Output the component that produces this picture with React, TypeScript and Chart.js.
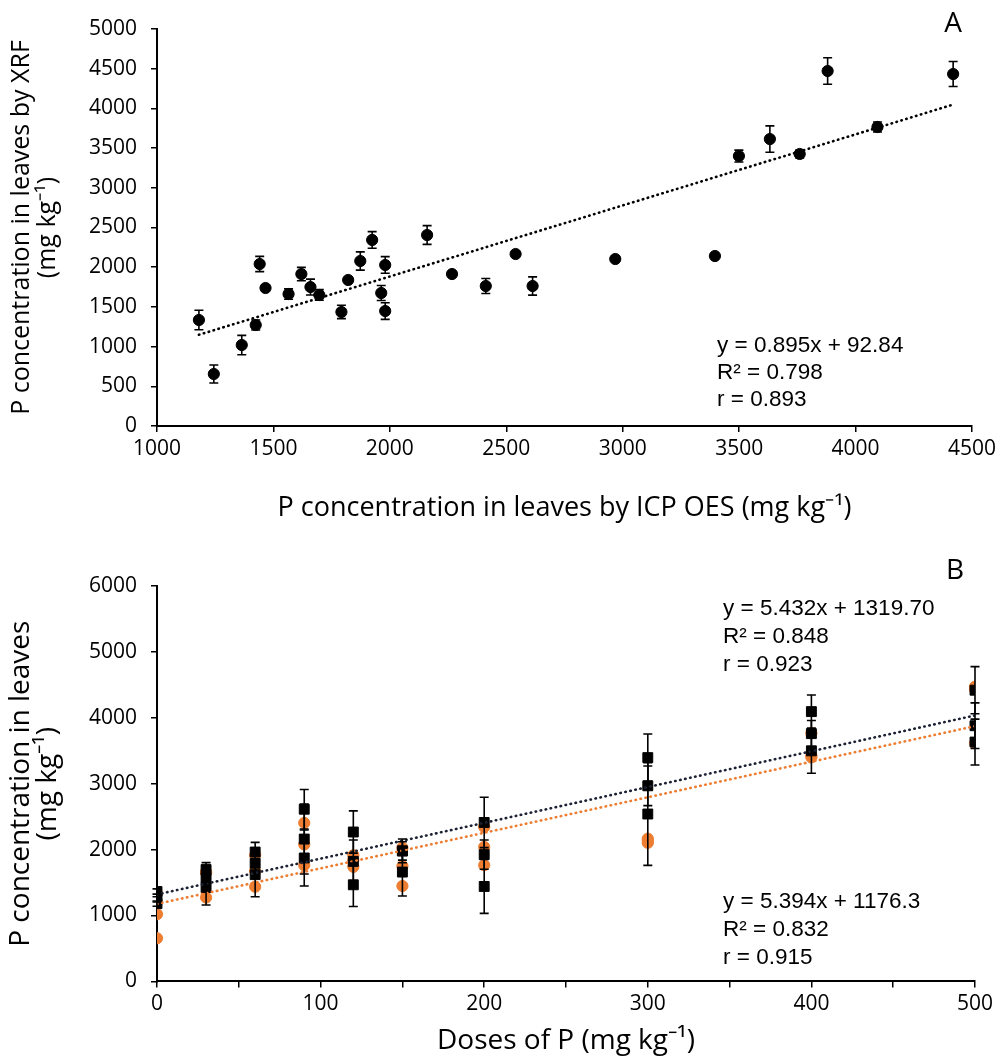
import React, { useEffect, useRef } from 'react';
import { Chart, registerables } from 'chart.js';

Chart.register(...registerables);

// ---- data (30 samples, 3 per dose) ----
const doses = [0, 0, 0, 30, 30, 30, 60, 60, 60, 90, 90, 90, 120, 120, 120, 150, 150, 150, 200, 200, 200, 300, 300, 300, 400, 400, 400, 500, 500, 500];
// P in leaves by ICP OES (mg kg-1)
const icp = [1180, 1244, 1364, 1424, 1565, 1697, 1620, 1792, 1963, 1873, 2160, 2613, 1466, 1821, 2267, 1659, 1980, 1980, 1441, 1924, 2412, 2540, 2968, 3396, 3499, 3760, 4094, 3632, 3880, 4419];
// P in leaves by XRF (mg kg-1)
const xrf = [1335, 655, 1020, 1272, 1662, 1650, 1914, 1436, 1675, 2078, 2405, 1763, 1738, 1839, 1914, 1750, 2028, 1448, 2040, 2343, 1763, 2166, 2103, 2141, 3400, 3426, 3766, 3614, 4471, 4433];
// error bars
const xrfErr = [122, 113, 122, 63, 65, 67, 84, 84, 95, 115, 118, 115, 20, 20, 0, 100, 105, 105, 96, 105, 95, 0, 0, 0, 75, 50, 63, 166, 166, 157];
const icpErr = [40, 40, 40, 265, 60, 105, 335, 60, 147, 425, 530, 300, 330, 325, 320, 363, 180, 140, 408, 222, 382, 780, 300, 358, 341, 200, 252, 348, 346, 357];

// trend line coefficients [slope, intercept]
const trendA = [0.895, 92.84];
const trendIcp = [5.432, 1319.7];
const trendXrf = [5.394, 1176.3];

// axis ticks
const xTicksA = [1000, 1500, 2000, 2500, 3000, 3500, 4000, 4500];
const yTicksA = [0, 500, 1000, 1500, 2000, 2500, 3000, 3500, 4000, 4500, 5000];
const xTicksB = [0, 50, 100, 150, 200, 250, 300, 350, 400, 450, 500];
const yTicksB = [0, 1000, 2000, 3000, 4000, 5000, 6000];

// annotation texts
const eqA = ['y = 0.895x + 92.84', 'R² = 0.798', 'r = 0.893'];
const eqB1 = ['y = 5.432x + 1319.70', 'R² = 0.848', 'r = 0.923'];
const eqB2 = ['y = 5.394x + 1176.3', 'R² = 0.832', 'r = 0.915'];

const ORANGE = '#ED7D31';
const FAMILY = '"Open Sans", sans-serif';
const TICK_FONT = { family: FAMILY, size: 21 };
const TITLE_FONT_AX = { family: FAMILY, size: 27, lineHeight: 1.0 };
const TITLE_FONT_AY = { family: FAMILY, size: 25, lineHeight: 1.04 };
const TITLE_FONT_B = { family: FAMILY, size: 28, lineHeight: 0.96 };
const EQ_FONT = '22.5px "Liberation Sans", Arial, sans-serif';

const errorBarPlugin = {
  id: 'errbars',
  afterDatasetsDraw(chart: any) {
    const { ctx } = chart;
    const xs = chart.scales.x;
    const ys = chart.scales.y;
    chart.data.datasets.forEach((ds: any) => {
      const errs = ds.errors;
      if (!errs) return;
      ctx.save();
      ctx.strokeStyle = '#000';
      ctx.lineWidth = 1.6;
      ds.data.forEach((p: any, j: number) => {
        const e = errs[j];
        if (!e) return;
        const px = xs.getPixelForValue(p.x);
        const top = ys.getPixelForValue(p.y + e);
        const bot = ys.getPixelForValue(p.y - e);
        const c = 4.5;
        ctx.beginPath();
        ctx.moveTo(px, top);
        ctx.lineTo(px, bot);
        ctx.moveTo(px - c, top);
        ctx.lineTo(px + c, top);
        ctx.moveTo(px - c, bot);
        ctx.lineTo(px + c, bot);
        ctx.stroke();
      });
      ctx.restore();
    });
  },
};

const notesPlugin = {
  id: 'notes',
  afterDraw(chart: any, _args: any, opts: any) {
    const { ctx } = chart;
    (opts.items || []).forEach((it: any) => {
      ctx.save();
      ctx.font = it.font;
      ctx.fillStyle = '#000';
      ctx.textBaseline = 'middle';
      ctx.textAlign = it.align || 'left';
      it.lines.forEach((l: string, k: number) => ctx.fillText(l, it.x, it.y + k * (it.lh || 0)));
      ctx.restore();
    });
  },
};

function trendPoints(coef: number[], x0: number, x1: number) {
  return [
    { x: x0, y: coef[0] * x0 + coef[1] },
    { x: x1, y: coef[0] * x1 + coef[1] },
  ];
}

function axisCommon() {
  return {
    grid: { display: true, drawOnChartArea: false, drawTicks: true, tickLength: 6, color: '#000', lineWidth: 1.5 },
    border: { display: true, color: '#000', width: 2 },
  };
}

const plain = (v: any) => String(v);

function makeChartA(canvas: HTMLCanvasElement) {
  const pts = icp.map((v, i) => ({ x: v, y: xrf[i] }));
  const xmin = Math.min(...icp);
  const xmax = Math.max(...icp);
  return new Chart(canvas, {
    type: 'scatter',
    data: {
      datasets: [
        {
          data: trendPoints(trendA, xmin, xmax),
          showLine: true,
          borderColor: '#000',
          borderWidth: 2.6,
          borderDash: [0.5, 4.6],
          borderCapStyle: 'round',
          pointRadius: 0,
        } as any,
        {
          data: pts,
          errors: xrfErr,
          backgroundColor: '#000',
          borderColor: '#000',
          pointRadius: 5.6,
          pointStyle: 'circle',
        } as any,
      ],
    },
    options: {
      animation: false,
      responsive: false,
      devicePixelRatio: 1,
      layout: { padding: { left: 0, top: 29, right: 30, bottom: 0 } },
      plugins: {
        legend: { display: false },
        tooltip: { enabled: false },
        notes: {
          items: [
            { lines: eqA, x: 717, y: 346, lh: 27, font: EQ_FONT },
            { lines: ['A'], x: 953, y: 24, font: '28px "Open Sans", sans-serif', align: 'center' },
          ],
        },
      } as any,
      scales: {
        x: {
          type: 'linear',
          min: xTicksA[0],
          max: xTicksA[xTicksA.length - 1],
          ...axisCommon(),
          afterBuildTicks: (s: any) => { s.ticks = xTicksA.map((v) => ({ value: v })); },
          afterFit: (s: any) => { s.height = 104; },
          ticks: { font: TICK_FONT, color: '#000', padding: 4, maxRotation: 0, autoSkip: false, callback: plain },
          title: { display: true, text: 'P concentration in leaves by ICP OES (mg kg⁻¹)', font: TITLE_FONT_AX, color: '#000', padding: { top: 0, bottom: 8 } },
        },
        y: {
          type: 'linear',
          min: yTicksA[0],
          max: yTicksA[yTicksA.length - 1],
          ...axisCommon(),
          afterBuildTicks: (s: any) => { s.ticks = yTicksA.map((v) => ({ value: v })); },
          afterFit: (s: any) => { s.width = 157; },
          ticks: { font: TICK_FONT, color: '#000', padding: 14, autoSkip: false, callback: plain },
          title: { display: true, text: ['P concentration in leaves by XRF', '(mg kg⁻¹)'], font: TITLE_FONT_AY, color: '#000', padding: { top: 9, bottom: 0 } },
        },
      },
    } as any,
    plugins: [errorBarPlugin, notesPlugin],
  });
}

function makeChartB(canvas: HTMLCanvasElement) {
  const icpPts = doses.map((d, i) => ({ x: d, y: icp[i] }));
  const xrfPts = doses.map((d, i) => ({ x: d, y: xrf[i] }));
  const x0 = xTicksB[0];
  const x1 = xTicksB[xTicksB.length - 1];
  return new Chart(canvas, {
    type: 'scatter',
    data: {
      datasets: [
        {
          data: trendPoints(trendIcp, x0, x1),
          showLine: true,
          borderColor: '#1c2233',
          borderWidth: 2.6,
          borderDash: [0.5, 4.6],
          borderCapStyle: 'round',
          pointRadius: 0,
        } as any,
        {
          data: trendPoints(trendXrf, x0, x1),
          showLine: true,
          borderColor: ORANGE,
          borderWidth: 2.6,
          borderDash: [0.5, 4.6],
          borderCapStyle: 'round',
          pointRadius: 0,
        } as any,
        {
          data: icpPts,
          errors: icpErr,
          backgroundColor: '#000',
          borderColor: '#000',
          pointRadius: 7,
          pointStyle: 'rect',
        } as any,
        {
          data: xrfPts,
          backgroundColor: ORANGE,
          borderColor: ORANGE,
          pointRadius: 5.6,
          pointStyle: 'circle',
        } as any,
      ],
    },
    options: {
      animation: false,
      responsive: false,
      devicePixelRatio: 1,
      layout: { padding: { left: 0, top: 56, right: 27, bottom: 0 } },
      plugins: {
        legend: { display: false },
        tooltip: { enabled: false },
        notes: {
          items: [
            { lines: eqB1, x: 723, y: 79, lh: 27.7, font: EQ_FONT },
            { lines: eqB2, x: 723, y: 372, lh: 27.7, font: EQ_FONT },
            { lines: ['B'], x: 955, y: 41, font: '28px "Open Sans", sans-serif', align: 'center' },
          ],
        },
      } as any,
      scales: {
        x: {
          type: 'linear',
          min: x0,
          max: x1,
          ...axisCommon(),
          afterBuildTicks: (s: any) => { s.ticks = xTicksB.map((v) => ({ value: v })); },
          afterFit: (s: any) => { s.height = 527 - 451.4; },
          ticks: {
            font: TICK_FONT,
            color: '#000',
            padding: 4,
            maxRotation: 0,
            autoSkip: false,
            callback: (v: any) => (v % 100 === 0 ? String(v) : ''),
          },
          title: { display: true, text: 'Doses of P (mg kg⁻¹)', font: TITLE_FONT_B, color: '#000', padding: { top: 0, bottom: 3 } },
        },
        y: {
          type: 'linear',
          min: yTicksB[0],
          max: yTicksB[yTicksB.length - 1],
          ...axisCommon(),
          afterBuildTicks: (s: any) => { s.ticks = yTicksB.map((v) => ({ value: v })); },
          afterFit: (s: any) => { s.width = 157; },
          ticks: { font: TICK_FONT, color: '#000', padding: 14, autoSkip: false, callback: plain },
          title: { display: true, text: ['P concentration in leaves', '(mg kg⁻¹)'], font: TITLE_FONT_B, color: '#000', padding: { top: 8, bottom: 0 } },
        },
      },
    } as any,
    plugins: [errorBarPlugin, notesPlugin],
  });
}

export default function App() {
  const refA = useRef<HTMLCanvasElement>(null);
  const refB = useRef<HTMLCanvasElement>(null);
  useEffect(() => {
    const a = makeChartA(refA.current!);
    const b = makeChartB(refB.current!);
    return () => {
      a.destroy();
      b.destroy();
    };
  }, []);
  return (
    <div style={{ position: 'absolute', left: 0, top: 0, width: 1002, height: 1057, background: '#fff' }}>
      <canvas ref={refA} width={1002} height={530} style={{ position: 'absolute', left: 0, top: 0, width: 1002, height: 530 }} />
      <canvas ref={refB} width={1002} height={527} style={{ position: 'absolute', left: 0, top: 530, width: 1002, height: 527 }} />
    </div>
  );
}
